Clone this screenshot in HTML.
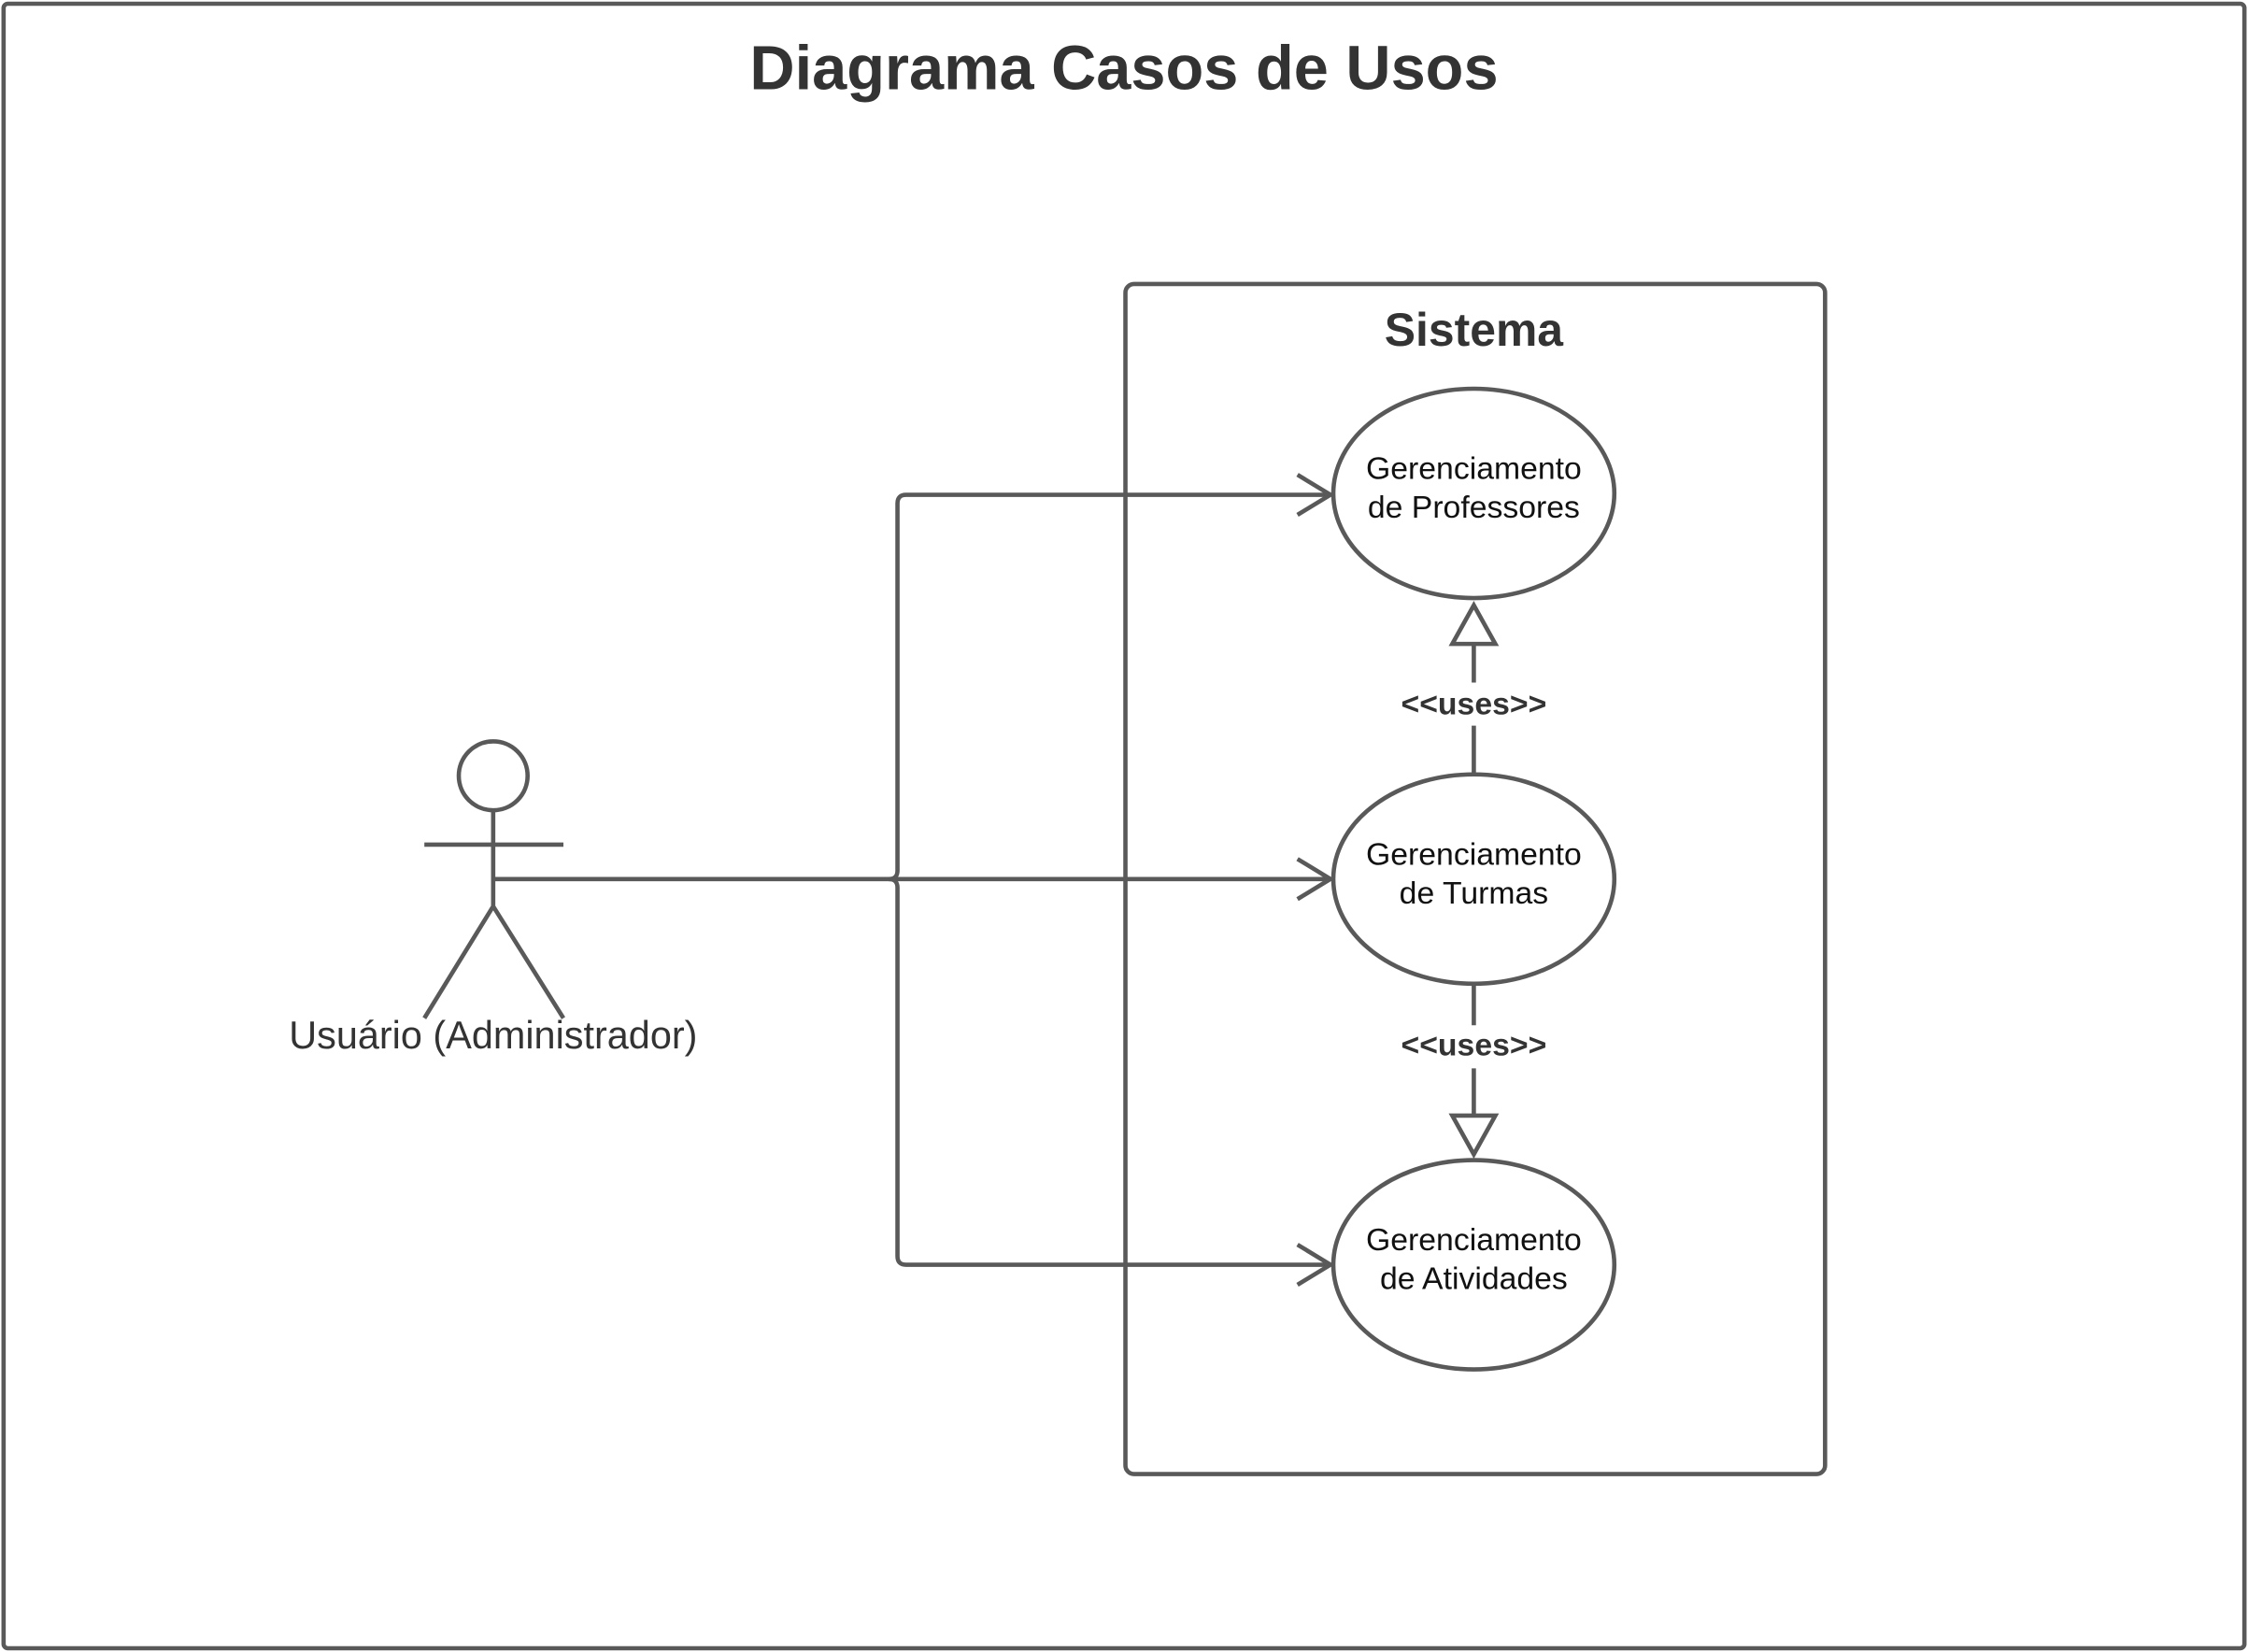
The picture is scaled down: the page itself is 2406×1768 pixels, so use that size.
<!DOCTYPE html>
<html><head><meta charset="utf-8"><style>
html,body{margin:0;padding:0;background:#fff;}
svg{display:block;}
</style></head><body>
<svg width="2406" height="1768" viewBox="0 0 1568 1152" xmlns="http://www.w3.org/2000/svg">
<rect x="0" y="0" width="1568" height="1152" fill="#fff"/>
<rect x="2.5" y="2.5" width="1563" height="1147" rx="3" fill="none" stroke="#595959" stroke-width="3"/>
<text x="784" y="62" text-anchor="middle" font-family="Liberation Sans, sans-serif" font-weight="bold" font-size="43.5" fill="#333">Diagrama Casos de Usos</text>
<rect x="785" y="198" width="488" height="830" rx="6" fill="none" stroke="#595959" stroke-width="3"/>
<text x="1028" y="241" text-anchor="middle" font-family="Liberation Sans, sans-serif" font-weight="bold" font-size="32.5" fill="#333">Sistema</text>
<g fill="none" stroke="#595959" stroke-width="3">
<path d="M344 613 H926"/>
<path d="M620 613 Q626 613 626 607 V351 Q626 345 632 345 H926"/>
<path d="M620 613 Q626 613 626 619 V876 Q626 882 632 882 H926"/>
<path d="M905 331 L928 345 L905 359"/>
<path d="M905 599 L928 613 L905 627"/>
<path d="M905 868 L928 882 L905 896"/>
<circle cx="344" cy="541" r="24"/>
<path d="M344 565 V632 M296 589 H393 M344 632 L296 710 M344 632 L393 710"/>
<path d="M1028 540 V506 M1028 476 V449"/>
<path d="M1028 687 V715 M1028 745 V778"/>
</g>
<g fill="#fff" stroke="#595959" stroke-width="3">
<polygon points="1028,422 1013,449 1043,449"/>
<polygon points="1013,778 1043,778 1028,805"/>
<ellipse cx="1028" cy="344" rx="98" ry="73"/>
<ellipse cx="1028" cy="613" rx="98" ry="73"/>
<ellipse cx="1028" cy="882" rx="98" ry="73"/>
</g>
<g font-family="Liberation Sans, sans-serif" font-size="22" fill="#111" text-anchor="middle">
<text x="1028" y="334">Gerenciamento</text><text x="1028" y="361">de Professores</text>
<text x="1028" y="603">Gerenciamento</text><text x="1028" y="630">de Turmas</text>
<text x="1028" y="872">Gerenciamento</text><text x="1028" y="899">de Atividades</text>
</g>
<g font-family="Liberation Sans, sans-serif" font-size="22" font-weight="bold" fill="#333" text-anchor="middle">
<text x="1028" y="498">&lt;&lt;uses&gt;&gt;</text>
<text x="1028" y="736">&lt;&lt;uses&gt;&gt;</text>
</g>
<text x="344" y="731" text-anchor="middle" font-family="Liberation Sans, sans-serif" font-size="27" fill="#333">Usuário (Administrador)</text>
</svg>
</body></html>
